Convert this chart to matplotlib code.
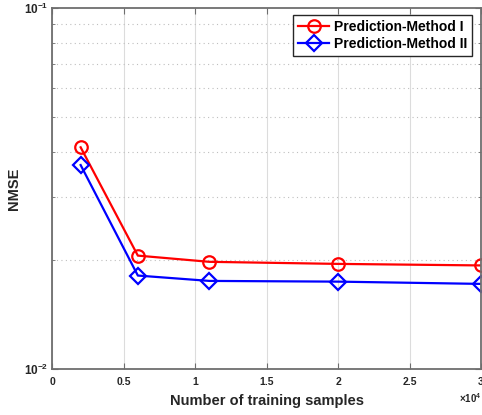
import matplotlib
matplotlib.use("Agg")
import matplotlib.pyplot as plt
from matplotlib.ticker import NullFormatter
import numpy as np

plt.rcParams['font.family'] = ['Liberation Sans', 'DejaVu Sans']
plt.rcParams['font.weight'] = 'bold'
plt.rcParams['mathtext.fontset'] = 'custom'
plt.rcParams['mathtext.rm'] = 'Liberation Sans:bold'
plt.rcParams['mathtext.bf'] = 'Liberation Sans:bold'
plt.rcParams['mathtext.it'] = 'Liberation Sans:bold'

# data
samples = [2000, 6000, 11000, 20000, 30000]
nmse_m1 = [0.0411, 0.0206, 0.0198, 0.01954, 0.01935]
nmse_m2 = [0.0367, 0.01814, 0.01753, 0.01745, 0.0172]
labels = ["Prediction-Method I", "Prediction-Method II"]
xticks = [0, 5000, 10000, 15000, 20000, 25000, 30000]
xticklabels = ["0", "0.5", "1", "1.5", "2", "2.5", "3"]

axcol = '#6e6e6e'
txtcol = '#262626'

fig = plt.figure(figsize=(4.82, 4.15), dpi=100)
ax = fig.add_axes([0.108, 0.111, 0.89, 0.87])

ax.plot(samples, nmse_m1, '-o', color='red', lw=1.6, ms=9, mfc='none', mew=1.6, label=labels[0])
ax.plot(samples, nmse_m2, '-D', color='blue', lw=1.6, ms=8, mfc='none', mew=1.6, label=labels[1])

ax.set_yscale('log')
ax.set_ylim(1e-2, 1e-1)
ax.set_xlim(0, 30000)
ax.set_xticks(xticks)
ax.set_xticklabels(xticklabels)
ax.set_yticks([1e-2, 1e-1])
ax.set_yticklabels([r'$10^{-2}$', r'$10^{-1}$'])
ax.yaxis.set_minor_formatter(NullFormatter())

ax.grid(True, axis='x', which='major', color='#dcdcdc', lw=0.8, ls='-')
ax.grid(True, axis='y', which='minor', color='#bfbfbf', lw=0.8, ls=(0, (1, 3)))
ax.set_axisbelow(True)

for s in ax.spines.values():
    s.set_color(axcol)
    s.set_linewidth(1.3)
ax.tick_params(which='both', direction='in', top=True, right=True, colors=axcol,
               labelcolor=txtcol, labelsize=7.5)
ax.tick_params(axis='y', labelsize=8.5, pad=3)
ax.tick_params(which='major', length=4)
ax.tick_params(which='minor', length=2.5)
ax.tick_params(axis='x', pad=6)

ax.set_xlabel("Number of training samples", fontsize=10.5, fontweight='bold', color=txtcol, labelpad=5)
ax.set_ylabel("NMSE", fontsize=10.5, fontweight='bold', color=txtcol, labelpad=2)
fig.text(0.976, 0.04, r'$\times10^{4}$', fontsize=7, color=txtcol, ha='center', va='center')

leg = ax.legend(loc='upper right', bbox_to_anchor=(0.98, 0.98), fontsize=10, frameon=True,
                fancybox=False, edgecolor='#262626', framealpha=1, handlelength=2.2,
                borderpad=0.35, labelspacing=0.2, handletextpad=0.4, borderaxespad=0)
leg.get_frame().set_linewidth(1.0)

fig.savefig("out.png", dpi=100)
